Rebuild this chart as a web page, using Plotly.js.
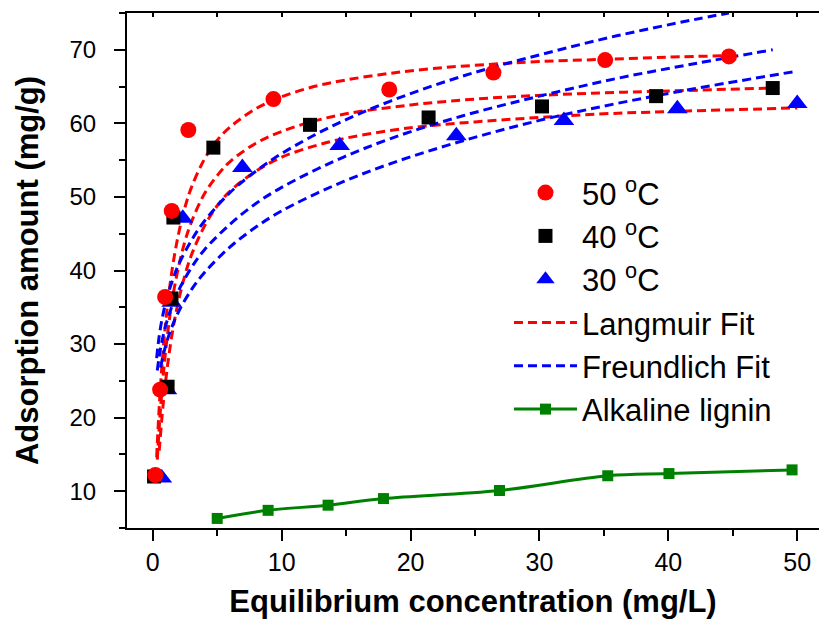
<!DOCTYPE html>
<html>
<head>
<meta charset="utf-8">
<script src="https://cdn.plot.ly/plotly-3.0.1.min.js"></script>
<style>html,body{margin:0;padding:0;background:#fff;}#chart{width:819px;height:626px;}</style>
</head>
<body>
<div id="chart"></div>
<script>
// Experimental points
var c50 = [0.2, 0.57, 0.96, 1.47, 2.76, 9.36, 18.35, 26.43, 35.1, 44.7];
var q50 = [12.2, 23.8, 36.4, 48.1, 59.1, 63.3, 64.6, 66.9, 68.6, 69.1];
var c40 = [0.1, 1.15, 1.45, 1.6, 4.7, 12.2, 21.4, 30.2, 39.05, 48.1];
var q40 = [12.0, 24.2, 36.2, 47.2, 56.7, 59.8, 60.8, 62.3, 63.7, 64.8];
var c30 = [0.7, 1.1, 1.47, 2.33, 6.95, 14.5, 23.55, 31.9, 40.7, 50.0];
var q30 = [11.8, 23.8, 35.7, 47.1, 54.0, 57.0, 58.3, 60.4, 62.0, 62.7];
var cLig = [5.0, 8.95, 13.6, 17.9, 26.9, 35.3, 40.05, 49.6];
var qLig = [6.3, 7.4, 8.1, 9.0, 10.1, 12.1, 12.4, 12.9];

// Fit curves
var lx50 = [0.3, 0.6, 1, 1.5, 2, 2.5, 3, 4, 5, 6, 8, 10, 12.5, 15, 18.4, 22, 26, 30, 35, 40, 44.7];
var ly50 = [14.6, 24.3, 33.0, 40.1, 45.0, 48.6, 51.3, 55.1, 57.7, 59.5, 62.0, 63.6, 65.0, 65.9, 66.8, 67.5, 68.0, 68.4, 68.7, 69.0, 69.2];
var lx40 = [0.35, 0.6, 1, 1.5, 2, 2.5, 3, 4, 5, 6, 8, 10, 12.5, 15, 20, 25, 30, 35, 40, 48.1];
var ly40 = [14.3, 21.2, 29.1, 35.9, 40.5, 44.0, 46.6, 50.4, 52.9, 54.8, 57.3, 58.9, 60.3, 61.3, 62.5, 63.3, 63.8, 64.15, 64.4, 64.8];
var lx30 = [0.5, 0.8, 1.2, 1.6, 2, 2.5, 3, 4, 5, 6, 8, 10, 12.5, 15, 20, 25, 30, 35, 40, 50];
var ly30 = [15.5, 21.7, 27.8, 32.4, 35.9, 39.4, 42.1, 46.0, 48.8, 50.8, 53.5, 55.4, 56.9, 58.0, 59.4, 60.2, 60.8, 61.3, 61.6, 62.1];
var fx50 = [0.3, 0.5, 0.8, 1.2, 1.6, 2, 3, 4, 6, 8, 10, 14, 18.4, 24, 30, 36, 42, 44.7];
var fy50 = [28.1, 31.1, 34.1, 36.9, 39.0, 40.8, 44.1, 46.7, 50.6, 53.5, 55.9, 59.7, 63.0, 66.4, 69.3, 71.9, 74.1, 75.0];
var fx40 = [0.35, 0.6, 1, 1.5, 2, 3, 4, 6, 8, 10, 14, 18.4, 24, 30, 36, 42, 48.1];
var fy40 = [26.4, 29.4, 32.5, 35.2, 37.3, 40.4, 42.8, 46.3, 49.1, 51.3, 54.8, 57.9, 61.0, 63.7, 66.1, 68.1, 70.0];
var fx30 = [0.6, 1, 1.5, 2, 3, 4, 6, 8, 10, 14, 18.4, 24, 30, 36, 42, 50];
var fy30 = [26.8, 29.8, 32.4, 34.4, 37.4, 39.7, 43.2, 45.9, 48.1, 51.5, 54.5, 57.6, 60.4, 62.7, 64.7, 67.1];

var xTicks = [0, 10, 20, 30, 40, 50];
var yTicks = [10, 20, 30, 40, 50, 60, 70];

var RED = '#ff0000', BLUE = '#0000ff', GREEN = '#008000';
var DASH = '9px,5px';

function fit(x, y, color, name, show, grp, rank) {
  return {x: x, y: y, type: 'scatter', mode: 'lines', name: name, showlegend: show,
    legendgroup: grp, legendrank: rank,
    line: {color: color, width: 3, dash: DASH, shape: 'spline', smoothing: 1},
    hoverinfo: 'skip'};
}

var traces = [
  fit(lx50, ly50, RED, 'Langmuir Fit', true, 'd', 4),
  fit(lx40, ly40, RED, 'Langmuir Fit', false, 'd', 4),
  fit(lx30, ly30, RED, 'Langmuir Fit', false, 'd', 4),
  fit(fx50, fy50, BLUE, 'Freundlich Fit', true, 'e', 5),
  fit(fx40, fy40, BLUE, 'Freundlich Fit', false, 'e', 5),
  fit(fx30, fy30, BLUE, 'Freundlich Fit', false, 'e', 5),
  {x: cLig, y: qLig, type: 'scatter', mode: 'lines+markers', name: 'Alkaline lignin', legendgroup: 'f', legendrank: 6,
    line: {color: GREEN, width: 3, shape: 'spline'}, marker: {symbol: 'square', size: 11, color: GREEN}},
  {x: c30, y: q30, type: 'scatter', mode: 'markers', name: '30 <sup>o</sup>C', legendgroup: 'c', legendrank: 3,
    marker: {symbol: 'triangle-up', size: 18, color: BLUE}},
  {x: c40, y: q40, type: 'scatter', mode: 'markers', name: '40 <sup>o</sup>C', legendgroup: 'b', legendrank: 2,
    marker: {symbol: 'square', size: 14, color: '#000000'}},
  {x: c50, y: q50, type: 'scatter', mode: 'markers', name: '50 <sup>o</sup>C', legendgroup: 'a', legendrank: 1,
    marker: {symbol: 'circle', size: 16, color: RED}},
  {x: [0], y: [10], xaxis: 'x2', yaxis: 'y', type: 'scatter', mode: 'markers', showlegend: false,
    marker: {opacity: 0}, hoverinfo: 'skip'}
];

var FONT = 'Liberation Sans, Arial, sans-serif';

var layout = {
  width: 819, height: 626,
  margin: {l: 127, r: 0, t: 13, b: 98},
  paper_bgcolor: '#ffffff', plot_bgcolor: '#ffffff',
  font: {family: FONT, color: '#000000', size: 24},
  showlegend: true,
  legend: {x: 0.552, y: 0.703, xanchor: 'left', yanchor: 'top', bgcolor: 'rgba(0,0,0,0)',
    font: {family: FONT, size: 31, color: '#000'}, traceorder: 'grouped', tracegroupgap: 0,
    itemwidth: 63},
  xaxis: {
    range: [-2, 51.69], tickvals: xTicks, ticktext: xTicks.map(String),
    ticks: 'outside', ticklen: 11, tickwidth: 2, tickcolor: '#000',
    showline: true, linewidth: 2, linecolor: '#000', mirror: true,
    showgrid: false, zeroline: false,
    minor: {dtick: 5, tick0: 0, ticks: 'outside', ticklen: 6, tickwidth: 2, tickcolor: '#000', showgrid: false},
    tickfont: {size: 25, family: FONT},
    title: {text: '<b>Equilibrium concentration (mg/L)</b>', font: {size: 31, family: FONT}, standoff: 15}
  },
  xaxis2: {
    overlaying: 'x', side: 'top', anchor: 'y', range: [-2, 51.69], tick0: 0, dtick: 5,
    ticks: 'inside', ticklen: 4, tickwidth: 2, tickcolor: '#000',
    showticklabels: false, showline: false, showgrid: false, zeroline: false
  },
  yaxis: {
    range: [5, 75], tickvals: yTicks, ticktext: yTicks.map(String),
    ticks: 'outside', ticklen: 11, tickwidth: 2, tickcolor: '#000',
    showline: true, linewidth: 2, linecolor: '#000', mirror: false,
    showgrid: false, zeroline: false, ticklabelstandoff: 13,
    minor: {dtick: 5, tick0: 0, ticks: 'outside', ticklen: 6, tickwidth: 2, tickcolor: '#000', showgrid: false},
    tickfont: {size: 24, family: FONT},
    title: {text: '<b>Adsorption amount (mg/g)</b>', font: {size: 31, family: FONT}, standoff: 22}
  }
};

Plotly.newPlot('chart', traces, layout, {displayModeBar: false, staticPlot: true});
</script>
</body>
</html>
